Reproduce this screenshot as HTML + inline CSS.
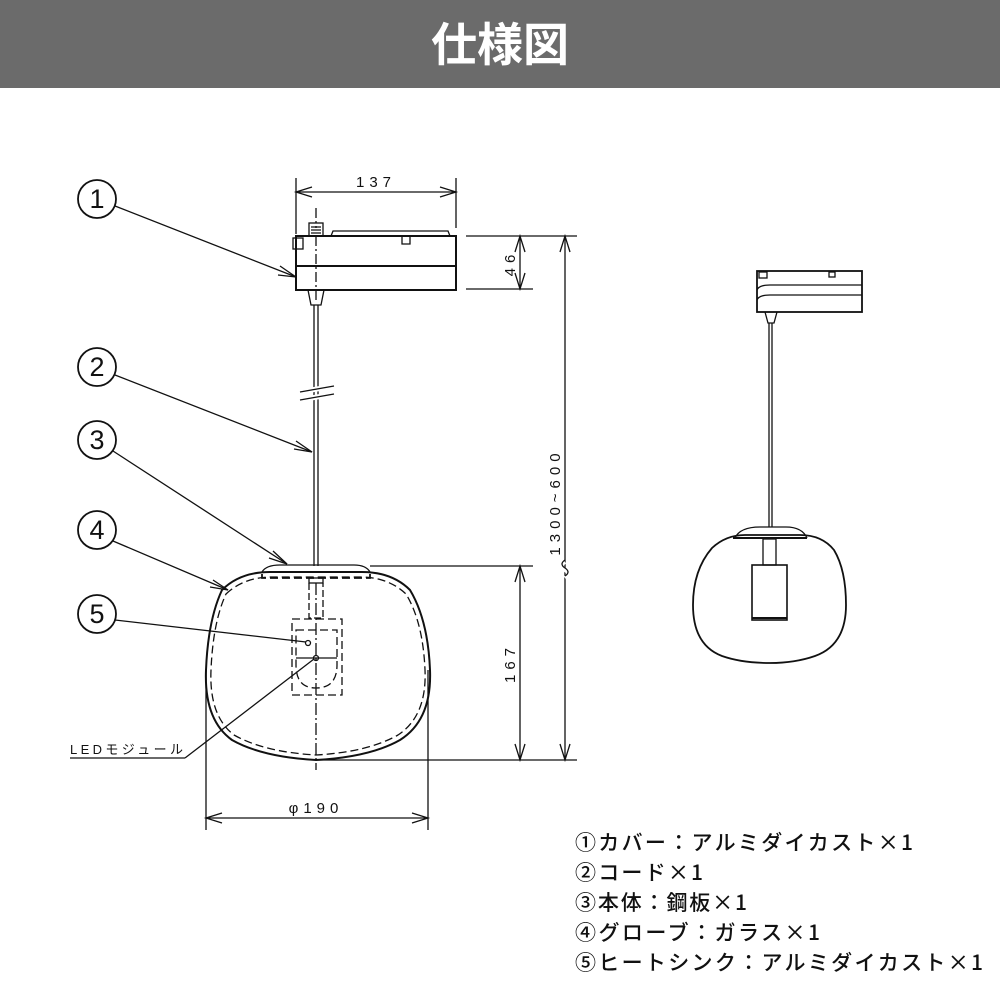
<!DOCTYPE html>
<html><head><meta charset="utf-8"><style>
html,body{margin:0;padding:0;background:#fff;}
svg{display:block;}
text{font-family:"Liberation Sans","Noto Sans CJK JP",sans-serif;fill:#111;}
.lg text{font-family:"Noto Sans CJK JP","Liberation Sans",sans-serif;}
</style></head><body>
<svg width="1000" height="1000" viewBox="0 0 1000 1000" xmlns="http://www.w3.org/2000/svg">
<rect x="0" y="0" width="1000" height="88" fill="#6b6b6b"/>
<text x="500" y="61" font-size="46" font-weight="bold" text-anchor="middle" style="fill:#fff;font-family:'Noto Sans CJK JP',sans-serif">仕様図</text>

<g fill="none" stroke="#111" stroke-width="1.3">
<rect x="296" y="236" width="160" height="54" stroke-width="2"/>
<line x1="296" y1="266" x2="456" y2="266" stroke-width="2"/>
<path d="M331 236 L333 231 L448 231 L450 236"/>
<rect x="293" y="238" width="10" height="11"/>
<path d="M402 236 v8 h8 v-8"/>
<rect x="309" y="223" width="14" height="13"/>
<path d="M311 227h10M311 230h10M311 233h10"/>
<path d="M308 290 L311 305 L321 305 L324 290"/>
<line x1="314" y1="305" x2="314" y2="566"/>
<line x1="318" y1="305" x2="318" y2="566"/>
<line x1="316" y1="208" x2="316" y2="228" stroke-dasharray="10,3,2,3"/>
<line x1="316" y1="236" x2="316" y2="300" stroke-dasharray="10,3,2,3"/>
<path d="M300 392 L334 386 M300 400 L334 394" stroke="#fff" stroke-width="5"/>
<path d="M300 392 L334 386 M300 400 L334 394"/>
<line x1="296" y1="178" x2="296" y2="234"/>
<line x1="456" y1="178" x2="456" y2="228"/>
<line x1="296" y1="192" x2="456" y2="192"/>
<path d="M312 187 L296 192 L312 197 M440 187 L456 192 L440 197"/>
<line x1="466" y1="236" x2="577" y2="236"/>
<line x1="466" y1="289" x2="533" y2="289"/>
<line x1="520" y1="236" x2="520" y2="289"/>
<path d="M515 252 L520 236 L525 252 M515 273 L520 289 L525 273"/>
<line x1="565" y1="236" x2="565" y2="760"/>
<path d="M560 252 L565 236 L570 252 M560 744 L565 760 L570 744"/>
<path d="M565 562 q-6 4 0 8 q6 4 0 8" stroke="#fff" stroke-width="4"/>
<path d="M565 560 q-6 4 0 8 q6 4 0 8"/>
<path d="M262 572 Q266 565 280 565 L354 565 Q366 565 370 572"/>
<path d="M222 590 Q240 572 270 572 L362 572 Q392 572 410 590 Q428 620 430 670 Q432 720 400 740 Q370 757 316 760 Q262 757 232 740 Q204 720 206 670 Q208 620 222 590 Z" stroke-width="2"/>
<path d="M226 594 Q244 577 272 577 L360 577 Q388 577 406 594 Q423 622 425 670 Q427 716 398 735 Q368 752 316 755 Q264 752 234 735 Q209 716 211 670 Q213 622 226 594 Z" stroke-dasharray="8,4"/>
<path d="M262 574 V578 H370 V574" stroke-dasharray="8,4" stroke-width="1.8"/>
<rect x="309" y="578" width="14" height="5"/>
<path d="M309 583 V618 H323 V583" stroke-dasharray="7,3"/>
<rect x="292" y="619" width="50" height="76" stroke-dasharray="8,4"/>
<path d="M296 630 H337 V665 Q337 688 316 688 Q296 688 296 665 Z" stroke-dasharray="8,4"/>
<line x1="296" y1="658" x2="337" y2="658"/>
<line x1="316" y1="583" x2="316" y2="770" stroke-dasharray="12,3,2,3"/>
<circle cx="308" cy="643" r="2.5"/>
<circle cx="316" cy="658" r="2.5"/>
<line x1="370" y1="566" x2="533" y2="566"/>
<line x1="316" y1="760" x2="577" y2="760"/>
<line x1="520" y1="566" x2="520" y2="760"/>
<path d="M515 582 L520 566 L525 582 M515 744 L520 760 L525 744"/>
<line x1="206" y1="670" x2="206" y2="830"/>
<line x1="428" y1="670" x2="428" y2="830"/>
<line x1="206" y1="818" x2="428" y2="818"/>
<path d="M222 813 L206 818 L222 823 M412 813 L428 818 L412 823"/>
<circle cx="97" cy="199" r="19" stroke-width="1.8"/>
<circle cx="97" cy="367" r="19" stroke-width="1.8"/>
<circle cx="97" cy="440" r="19" stroke-width="1.8"/>
<circle cx="97" cy="530" r="19" stroke-width="1.8"/>
<circle cx="97" cy="614" r="19" stroke-width="1.8"/>
<line x1="115" y1="206" x2="296" y2="277"/>
<path d="M280 266 L296 277 L278 275"/>
<line x1="115" y1="375" x2="312" y2="452"/>
<path d="M296 441 L312 452 L294 449"/>
<line x1="113" y1="451" x2="287" y2="564"/>
<path d="M273 551 L287 564 L269 558"/>
<line x1="113" y1="541" x2="228" y2="590"/>
<path d="M213 580 L228 590 L210 587"/>
<line x1="115" y1="620" x2="306" y2="642"/>
<line x1="70" y1="758" x2="185" y2="758"/>
<line x1="185" y1="758" x2="314" y2="659"/>
<rect x="757" y="271" width="105" height="41" stroke-width="1.8"/>
<path d="M757 290 Q759 285 770 285 H862 M757 300 Q759 295 770 295 H862" stroke-width="1.3"/>
<rect x="759" y="272" width="8" height="6"/>
<rect x="829" y="272" width="6" height="5"/>
<path d="M765 312 L768 323 L774 323 L777 312"/>
<line x1="769" y1="323" x2="769" y2="527"/>
<line x1="772" y1="323" x2="772" y2="527"/>
<path d="M735 538 Q740 527 760 527 H786 Q802 527 807 538"/>
<line x1="733" y1="538" x2="807" y2="538" stroke-width="2"/>
<path d="M712 548 Q726 535 745 535 H800 Q822 535 834 550 Q846 570 846 605 Q846 645 815 656 Q795 663 770 663 Q742 663 722 656 Q693 645 693 605 Q693 570 712 548 Z" stroke-width="1.8"/>
<rect x="763" y="539" width="13" height="26"/>
<rect x="752" y="565" width="35" height="55" stroke-width="1.6"/>
<line x1="752" y1="618" x2="787" y2="618" stroke-width="2"/>
</g>

<g font-size="15">
<text x="376" y="187" text-anchor="middle" letter-spacing="5">137</text>
<text x="316" y="813" text-anchor="middle" letter-spacing="5">φ190</text>
<text transform="translate(515,263) rotate(-90)" text-anchor="middle" letter-spacing="5">46</text>
<text transform="translate(515,663) rotate(-90)" text-anchor="middle" letter-spacing="5">167</text>
<text transform="translate(560,502) rotate(-90)" text-anchor="middle" letter-spacing="5">1300~600</text>
<text x="70" y="754" font-size="13" textLength="113">LEDモジュール</text>
</g>
<g font-size="27" text-anchor="middle">
<text x="97" y="208">1</text>
<text x="97" y="376">2</text>
<text x="97" y="449">3</text>
<text x="97" y="539">4</text>
<text x="97" y="623">5</text>
</g>
<g class="lg" font-size="21" font-weight="500">
<text x="575" y="850" textLength="338">①カバー：アルミダイカスト×1</text>
<text x="575" y="880" textLength="128">②コード×1</text>
<text x="575" y="910" textLength="172">③本体：鋼板×1</text>
<text x="575" y="940" textLength="245">④グローブ：ガラス×1</text>
<text x="575" y="970" textLength="408">⑤ヒートシンク：アルミダイカスト×1</text>
</g>
</svg>
</body></html>
